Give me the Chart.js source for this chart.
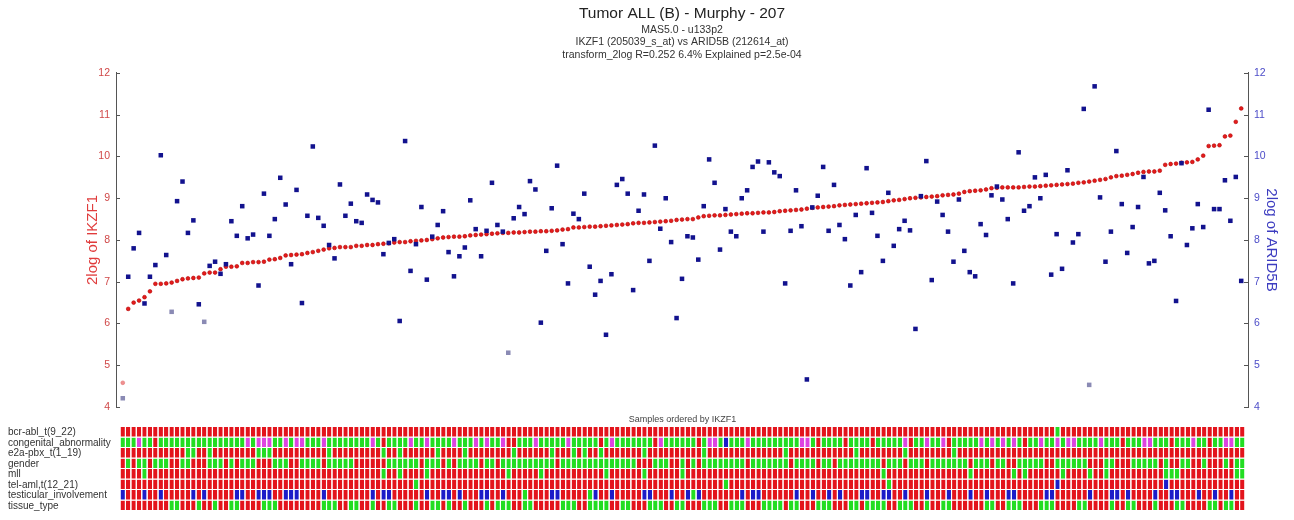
<!DOCTYPE html>
<html><head><meta charset="utf-8">
<script src="https://cdn.jsdelivr.net/npm/chart.js@4.4.0/dist/chart.umd.min.js"></script>
<style>
html,body{margin:0;padding:0;background:#fff;}
#wrap{position:relative;width:1294px;height:520px;overflow:hidden;background:#fff;}
#c1{position:absolute;left:0;top:0;}
#c2{position:absolute;left:0;top:410px;}
</style></head><body>
<div id="wrap"><canvas id="c1" width="1294" height="420"></canvas><canvas id="c2" width="1294" height="110"></canvas></div>
<script>
// ---------------- data ----------------
const titleText = 'Tumor ALL (B) - Murphy - 207';
const subtitleLines = ['MAS5.0 - u133p2', 'IKZF1 (205039_s_at) vs ARID5B (212614_at)', 'transform_2log R=0.252 6.4% Explained p=2.5e-04'];
const yTicks = [4, 5, 6, 7, 8, 9, 10, 11, 12];

const ikzf1 = [
 4.58,6.35,6.50,6.55,6.63,6.77,6.95,6.95,6.96,6.98,
 7.02,7.06,7.08,7.09,7.10,7.20,7.22,7.22,7.30,7.36,
 7.36,7.37,7.45,7.45,7.47,7.47,7.48,7.53,7.54,7.57,
 7.63,7.64,7.65,7.66,7.69,7.71,7.74,7.77,7.80,7.81,
 7.83,7.83,7.83,7.86,7.86,7.88,7.88,7.90,7.91,7.92,
 7.94,7.95,7.95,7.97,7.98,7.99,8.00,8.02,8.04,
 8.06,8.07,8.08,8.08,8.09,8.11,8.12,8.13,8.14,8.15,
 8.16,8.17,8.17,8.18,8.18,8.19,8.20,8.20,8.21,8.21,
 8.22,8.23,8.25,8.26,8.30,8.30,8.31,8.32,8.32,8.33,
 8.34,8.35,8.36,8.37,8.38,8.40,8.41,8.41,8.42,8.43,
 8.44,8.45,8.46,8.48,8.49,8.50,8.50,8.54,8.57,8.58,
 8.59,8.59,8.60,8.61,8.62,8.63,8.64,8.64,8.65,8.66,
 8.66,8.67,8.69,8.70,8.71,8.72,8.73,8.75,8.77,8.78,
 8.79,8.80,8.81,8.83,8.84,
 8.85,8.86,8.87,8.88,8.89,
 8.90,8.91,8.93,8.95,8.96,8.98,9.00,9.01,9.02,9.03,
 9.04,9.05,9.07,9.08,9.09,9.11,9.15,9.17,9.18,9.19,
 9.21,9.24,9.25,9.26,9.26,9.26,9.26,9.27,9.28,9.28,
 9.29,9.30,9.31,9.32,9.33,9.34,9.35,9.37,9.38,9.40,
 9.42,9.44,9.46,9.50,9.53,9.54,9.56,9.58,9.61,9.63,
 9.64,9.64,9.66,9.80,9.82,9.83,9.85,9.86,9.87,9.93,
 10.02,10.25,10.26,10.27,10.48,10.50,10.83,11.15
];
const arid5b = [
 4.21,7.12,7.80,8.17,6.48,7.12,7.40,10.03,7.64,6.28,
 8.93,9.40,8.17,8.47,6.46,6.04,7.38,7.48,7.19,7.42,
 8.45,8.10,8.81,8.04,8.13,6.91,9.11,8.10,8.50,9.49,
 8.85,7.42,9.20,6.49,8.58,10.24,8.53,8.34,7.88,7.56,
 9.33,8.58,8.87,8.45,8.41,9.09,8.96,8.90,7.66,7.93,
 8.02,6.06,10.37,7.26,7.90,8.79,7.05,8.08,8.36,
 8.69,7.71,7.13,7.61,7.82,8.95,8.26,7.61,8.22,9.37,
 8.36,8.20,5.30,8.52,8.79,8.62,9.41,9.21,6.02,7.74,
 8.76,9.78,7.90,6.96,8.63,8.50,9.11,7.36,6.69,7.02,
 5.73,7.18,9.32,9.46,9.11,6.80,8.70,9.09,7.50,10.26,
 8.27,9.00,7.95,6.13,7.07,8.09,8.06,7.53,8.81,9.93,
 9.37,7.77,8.74,8.20,8.09,9.00,9.19,9.75,9.88,8.20,
 9.86,9.62,9.53,6.96,8.22,9.19,8.33,4.66,8.78,9.06,
 9.75,8.22,9.32,8.36,8.02,
 6.91,8.60,7.23,9.72,8.65,
 8.10,7.50,9.13,7.86,8.26,8.46,8.23,5.87,9.05,9.89,
 7.04,8.92,8.60,8.20,7.48,8.97,7.74,7.23,7.13,8.38,
 8.12,9.07,9.28,8.97,8.50,6.96,10.10,8.70,8.81,9.50,
 9.00,9.56,7.17,8.14,7.31,9.67,7.94,8.14,11.14,4.53,
 11.68,9.02,7.48,8.20,10.13,8.86,7.69,8.31,8.79,9.51,
 7.44,7.50,9.13,8.71,8.09,6.54,9.84,7.88,8.28,8.86,
 8.31,11.12,8.74,8.74,9.43,8.46,9.51,7.02
];
// samples whose calls are "absent" (drawn faded)
const absentIKZF1 = [1];
const absentARID5B = [1, 10, 16, 72, 179];

// heatmap rows (sample numbers that differ from each row's main class)
const rowLabels = ['bcr-abl_t(9_22)','congenital_abnormality','e2a-pbx_t(1_19)','gender','mll','tel-aml,t(12_21)','testicular_involvement','tissue_type'];
const rowBase = ['R','G','R','R','R','R','R','R'];
const bcrAblG = [173];
const congM = [4,24,26,27,28,31,33,34,38,47,54,57,62,66,68,71,77,83,91,100,109,110,116,126,127,145,149,152,159,161,163,165,170,173,175,176,181,189,190,198,204,205];
const congB = [112];
const congR = [7,49,72,73,89,99,107,129,134,139,146,153,167,185,194,201];
const e2aG = [13,14,17,26,27,28,39,49,52,59,64,73,80,84,86,89,97,108,123,136,145,154];
const genderG = [2,4,5,7,8,9,12,13,17,18,19,21,23,24,25,29,30,31,34,35,36,37,39,40,41,42,43,50,51,52,53,54,55,57,58,59,61,63,64,65,66,68,69,
 71,72,73,74,75,76,77,78,79,80,82,83,84,85,86,87,88,89,90,91,92,93,94,95,99,100,101,104,106,108,109,110,111,112,113,114,115,117,118,119,120,121,122,123,125,126,127,128,130,131,133,134,135,136,137,138,139,
 140,142,143,144,146,147,148,150,151,152,153,154,155,156,158,159,160,162,163,166,167,168,169,170,173,174,175,176,177,178,182,183,187,188,189,190,191,193,196,197,200,204,206,207];
const mllG = [5,49,52,57,72,78,90,97,104,141,157,165,167,174,179,182,193,194,195,206,207];
const telG = [55,112,142];
const telB = [173,193];
const testB = [1,5,8,14,16,22,23,26,27,28,31,32,33,38,47,49,50,57,60,61,63,67,68,71,80,81,88,91,97,98,102,105,107,115,117,118,125,128,131,133,137,138,141,142,145,149,153,157,160,164,165,171,172,179,183,184,186,191,194,195,199,202,205];
const testG = [75,87,106];
const tissueG = [10,11,15,18,21,22,27,28,29,38,39,40,43,44,47,50,51,55,58,59,61,64,68,70,71,72,75,76,82,83,84,87,88,89,90,93,94,98,99,100,103,104,108,109,110,113,114,115,119,120,121,122,124,125,129,130,131,135,136,138,139,140,141,144,145,146,149,152,153,160,161,164,165,166,170,171,172,177,178,183,186,187,191,195,196,201,202,204,205];

// ---------------- build ----------------
const FONT = '"Liberation Sans", Arial, Helvetica, sans-serif';
Chart.defaults.font.family = FONT;
const sampleIdx = ikzf1.map((_, i) => i + 1);

function buildRow(base, exceptions) {
  const r = sampleIdx.map(() => base);
  exceptions.forEach(([cls, list]) => list.forEach(s => { r[s - 1] = cls; }));
  return r;
}
const rows = [
  buildRow(rowBase[0], [['G', bcrAblG]]),
  buildRow(rowBase[1], [['M', congM], ['B', congB], ['R', congR]]),
  buildRow(rowBase[2], [['G', e2aG]]),
  buildRow(rowBase[3], [['G', genderG]]),
  buildRow(rowBase[4], [['G', mllG]]),
  buildRow(rowBase[5], [['G', telG], ['B', telB]]),
  buildRow(rowBase[6], [['B', testB], ['G', testG]]),
  buildRow(rowBase[7], [['G', tissueG]])
];
const palette = { R: '#e3141c', G: '#22dd22', M: '#dd44e0', B: '#1c1cc8' };

const inwardTicks = {
  id: 'inwardTicks',
  afterDraw(chart) {
    const ctx = chart.ctx;
    ['y', 'y2'].forEach(id => {
      const s = chart.scales[id];
      const x0 = id === 'y' ? s.right : s.left;
      const dir = id === 'y' ? 1 : -1;
      ctx.save();
      ctx.strokeStyle = '#555';
      ctx.lineWidth = 1;
      s.ticks.forEach(t => {
        const y = Math.round(s.getPixelForValue(t.value)) + 0.5;
        ctx.beginPath(); ctx.moveTo(x0, y); ctx.lineTo(x0 + dir * 4, y); ctx.stroke();
      });
      ctx.restore();
    });
  }
};

new Chart(document.getElementById('c1'), {
  type: 'scatter',
  data: {
    datasets: [
      {
        label: 'ARID5B', yAxisID: 'y2',
        data: sampleIdx.map((s, i) => ({ x: s, y: arid5b[i] })),
        pointStyle: 'rect', pointRadius: 3.2, borderWidth: 0,
        backgroundColor: sampleIdx.map(s => absentARID5B.includes(s) ? '#8a8ab4' : '#12128e')
      },
      {
        label: 'IKZF1', yAxisID: 'y',
        data: sampleIdx.map((s, i) => ({ x: s, y: ikzf1[i] })),
        pointStyle: 'circle', pointRadius: 1.9, borderWidth: 0.6,
        backgroundColor: sampleIdx.map(s => absentIKZF1.includes(s) ? '#f09090' : '#e41c1c'),
        borderColor: sampleIdx.map(s => absentIKZF1.includes(s) ? '#e07070' : '#b40000')
      }
    ]
  },
  options: {
    responsive: false, animation: false, devicePixelRatio: 1,
    layout: { padding: { left: 76, right: 0, top: 0, bottom: 13 } },
    plugins: {
      legend: { display: false }, tooltip: { enabled: false },
      title: { display: true, text: titleText, fullSize: false, color: '#222',
        font: { size: 15.5, weight: 'normal' }, padding: { top: 4.5, bottom: 0 } },
      subtitle: { display: true, text: subtitleLines, fullSize: false, color: '#333',
        font: { size: 10.5, lineHeight: 1.19 }, padding: { top: 0.65, bottom: 11.75 } }
    },
    scales: {
      x: { type: 'linear', min: -0.25, max: 208.25, display: false },
      y: {
        position: 'left', min: 4, max: 12,
        afterBuildTicks(s) { s.ticks = yTicks.map(v => ({ value: v })); },
        ticks: { color: '#d04848', font: { size: 10.5 }, padding: 6 },
        grid: { display: false, drawTicks: false },
        border: { display: true, color: '#555', width: 1 },
        title: { display: true, text: '2log of IKZF1', color: '#e03c3c', font: { size: 15 }, padding: { top: 7.6, bottom: 0 } },
        afterFit(s) { s.width = 40; }
      },
      y2: {
        position: 'right', min: 4, max: 12,
        afterBuildTicks(s) { s.ticks = yTicks.map(v => ({ value: v })); },
        ticks: { color: '#4c4cc8', font: { size: 10.5 }, padding: 6 },
        grid: { display: false, drawTicks: false },
        border: { display: true, color: '#555', width: 1 },
        title: { display: true, text: '2log of ARID5B', color: '#3c3cc0', font: { size: 15 }, padding: { top: 13.6, bottom: 0 } },
        afterFit(s) { s.width = 46; }
      }
    }
  },
  plugins: [inwardTicks]
});

new Chart(document.getElementById('c2'), {
  type: 'bar',
  data: {
    labels: sampleIdx,
    datasets: rows.map((r, k) => ({
      label: rowLabels[k],
      data: r.map(() => 1),
      backgroundColor: r.map(c => palette[c]),
      borderColor: 'rgba(255,255,255,0.95)',
      borderWidth: { top: 0, left: 0, right: 0, bottom: 1 },
      borderSkipped: false,
      barPercentage: 0.8, categoryPercentage: 1
    }))
  },
  options: {
    responsive: false, animation: false, devicePixelRatio: 1,
    layout: { padding: { left: 8, right: 49, top: 0, bottom: 3 } },
    plugins: {
      legend: { display: false }, tooltip: { enabled: false },
      title: { display: true, text: 'Samples ordered by IKZF1', fullSize: false, color: '#444',
        font: { size: 9, weight: 'normal' }, padding: { top: 4, bottom: 2.2 } }
    },
    scales: {
      x: { stacked: true, display: false },
      y: {
        stacked: true, min: 0, max: 8, reverse: true,
        afterBuildTicks(s) { s.ticks = rowLabels.map((_, i) => ({ value: i + 0.5 })); },
        ticks: { autoSkip: false, crossAlign: 'far', color: '#333', font: { size: 10 },
          callback: (v, i) => rowLabels[i] },
        grid: { display: false, drawTicks: false },
        border: { display: false },
        afterFit(s) { s.width = 112; }
      }
    }
  }
});
</script>
</body></html>
